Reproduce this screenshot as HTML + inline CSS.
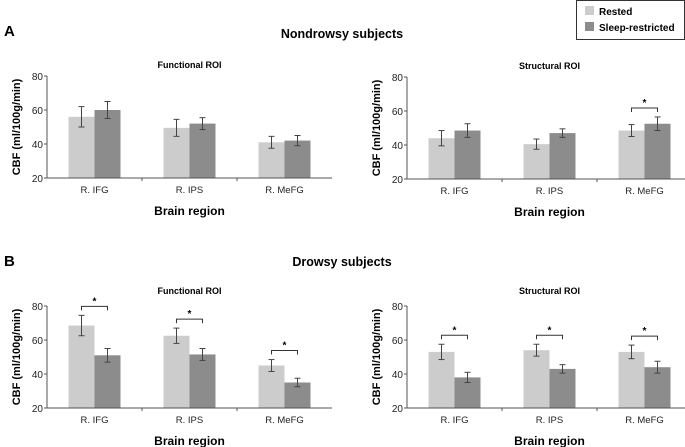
<!DOCTYPE html>
<html><head><meta charset="utf-8"><style>
body{margin:0;background:#fff;}
svg{display:block;font-family:"Liberation Sans",Arial,sans-serif;}
</style></head><body>
<svg id="chart" width="685" height="447">
<text x="4" y="36" font-size="15" font-weight="bold">A</text>
<text x="342" y="38" font-size="12.5" font-weight="bold" text-anchor="middle">Nondrowsy subjects</text>
<text x="4" y="266" font-size="15" font-weight="bold">B</text>
<text x="342" y="266" font-size="12.5" font-weight="bold" text-anchor="middle">Drowsy subjects</text>
<g>
<rect x="576.5" y="0.5" width="108" height="39" fill="#fff" stroke="#333"/>
<rect x="585" y="6" width="9" height="9" fill="#cccccc"/>
<text x="599" y="15" font-size="10" font-weight="bold">Rested</text>
<rect x="585" y="22" width="9" height="9" fill="#8c8c8c"/>
<text x="599" y="31" font-size="10" font-weight="bold">Sleep-restricted</text>
</g>
</svg>
<script>
const categories = ["R. IFG","R. IPS","R. MeFG"];
const yTicks = [20,40,60,80];
const aFuncRested = [56,49.5,41], aFuncRestedErr = [6,5,3.5];
const aFuncSleep = [60,52,42], aFuncSleepErr = [5,3.5,3];
const aStructRested = [44,40.5,48.5], aStructRestedErr = [4.5,3,3.5];
const aStructSleep = [48.5,47,52.5], aStructSleepErr = [4,2.5,4];
const bFuncRested = [68.5,62.5,45], bFuncRestedErr = [6,4.5,3.5];
const bFuncSleep = [51,51.5,35], bFuncSleepErr = [4,3.5,2.5];
const bStructRested = [53,54,53], bStructRestedErr = [4.5,3.5,4];
const bStructSleep = [38,43,44], bStructSleepErr = [3,2.5,3.5];
const aFuncSig = [false,false,false], aStructSig = [false,false,true];
const bFuncSig = [true,true,true], bStructSig = [true,true,true];

const svg = document.getElementById('chart');
const NS = 'http://www.w3.org/2000/svg';
function mk(tag, attrs, parent){const e=document.createElementNS(NS,tag);for(const k in attrs)e.setAttribute(k,attrs[k]);(parent||svg).appendChild(e);return e;}

function panel(name, x0, yTop, titleOff, title, r, rE, s, sE, sig){
  const g = mk('g',{});
  
  
  const yBot = yTop + 102, w = 285, gw = w/3;
  const y = v => yBot - (v-20)/60*(yBot-yTop);
  const t = mk('text',{x:x0+gw*1.5,y:yTop-titleOff,'font-size':9,'font-weight':'bold','text-anchor':'middle'},g);
  t.textContent = title;
  
  
  categories.forEach((c,i)=>{
    const cx = x0 + gw*(i+0.5);
    const b1 = mk('rect',{x:cx-26,y:y(r[i]),width:26,height:yBot-y(r[i]),fill:'#cccccc'},g);
    
    
    const b2 = mk('rect',{x:cx,y:y(s[i]),width:26,height:yBot-y(s[i]),fill:'#8c8c8c'},g);
    
    
    [[cx-13,r[i],rE[i]],[cx+13,s[i],sE[i]]].forEach(([ex,v,e])=>{
      mk('line',{x1:ex,x2:ex,y1:y(v+e),y2:y(v-e),stroke:'#444','stroke-width':1},g);
      mk('line',{x1:ex-3,x2:ex+3,y1:y(v+e),y2:y(v+e),stroke:'#444','stroke-width':1},g);
      mk('line',{x1:ex-3,x2:ex+3,y1:y(v-e),y2:y(v-e),stroke:'#444','stroke-width':1},g);
    });
    if(sig[i]){
      const top = Math.max(r[i]+rE[i], s[i]+sE[i]);
      const by = y(top) - 9;
      mk('path',{d:`M${cx-13},${by+4}V${by}H${cx+13}V${by+4}`,fill:'none',stroke:'#333','stroke-width':1},g);
      const st = mk('text',{x:cx,y:by-2,'font-size':10,'font-weight':'bold','text-anchor':'middle'},g);
      st.textContent='*';
    }
    const lt = mk('text',{x:cx,y:yBot+15,'font-size':9.5,'text-anchor':'middle',fill:'#222'},g);
    lt.textContent=c;
    
    
    if(i>0) mk('line',{x1:x0+gw*i,x2:x0+gw*i,y1:yBot,y2:yBot+3,stroke:'#555'},g);
  });
  mk('line',{x1:x0,x2:x0+w,y1:yBot,y2:yBot,stroke:'#555'},g);
  mk('line',{x1:x0,x2:x0,y1:yTop,y2:yBot,stroke:'#555'},g);
  yTicks.forEach(v=>{
    mk('line',{x1:x0-3,x2:x0,y1:y(v),y2:y(v),stroke:'#555'},g);
    const tt = mk('text',{x:x0-4,y:y(v)+4,'font-size':10,'text-anchor':'end',fill:'#222'},g);
    tt.textContent=v;
    
    
  });
  const yl = mk('text',{x:0,y:0,'font-size':11,'font-weight':'bold','text-anchor':'middle',transform:`translate(${x0-27},${(yTop+yBot)/2}) rotate(-90)`},g);
  yl.textContent='CBF (ml/100g/min)';
  
  
  const xl = mk('text',{x:x0+gw*1.5,y:yBot+37,'font-size':12,'font-weight':'bold','text-anchor':'middle'},g);
  xl.textContent='Brain region';
  
  
}
panel('panel-a-functional',47,76,8,'Functional ROI',aFuncRested,aFuncRestedErr,aFuncSleep,aFuncSleepErr,aFuncSig);
panel('panel-a-structural',407,77,8,'Structural ROI',aStructRested,aStructRestedErr,aStructSleep,aStructSleepErr,aStructSig);
panel('panel-b-functional',47,306,12,'Functional ROI',bFuncRested,bFuncRestedErr,bFuncSleep,bFuncSleepErr,bFuncSig);
panel('panel-b-structural',407,306,12,'Structural ROI',bStructRested,bStructRestedErr,bStructSleep,bStructSleepErr,bStructSig);
</script>
</body></html>
